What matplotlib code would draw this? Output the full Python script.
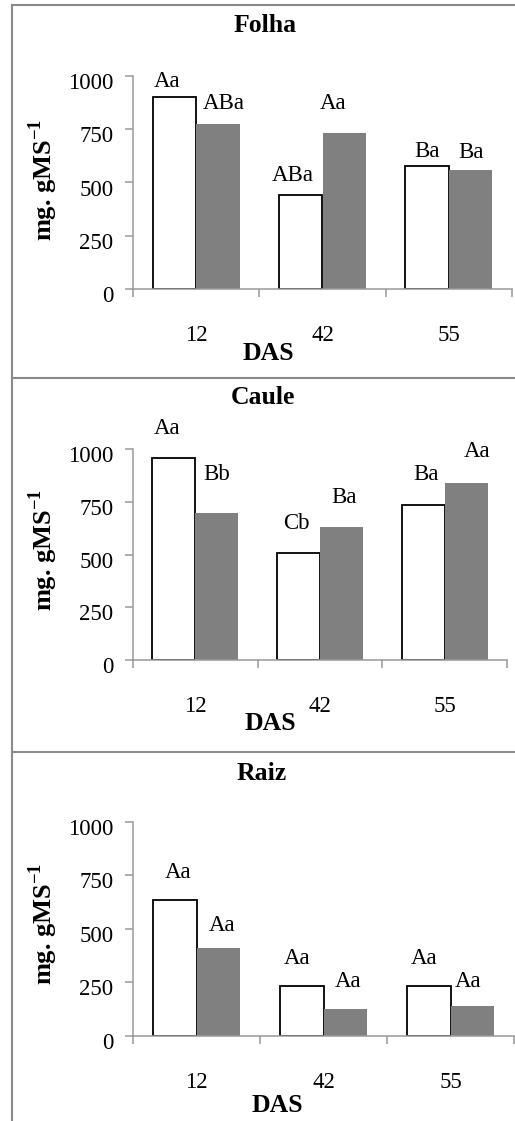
import matplotlib
matplotlib.use("Agg")
import matplotlib.pyplot as plt
import matplotlib.transforms as mtransforms
from matplotlib.lines import Line2D
import numpy as np

plt.rcParams['font.family'] = ['Liberation Serif', 'DejaVu Serif']
plt.rcParams['mathtext.fontset'] = 'custom'
plt.rcParams['mathtext.rm'] = 'Liberation Serif'
plt.rcParams['mathtext.bf'] = 'Liberation Serif:bold'

# ---------------- data ----------------
days = ['12', '42', '55']
panel_titles = ['Folha', 'Caule', 'Raiz']
y_ticks = [0, 250, 500, 750, 1000]

folha_white = [903, 441, 577]
folha_gray = [775, 732, 559]
caule_white = [959, 507, 733]
caule_gray = [695, 630, 837]
raiz_white = [636, 232, 232]
raiz_gray = [408, 125, 139]

# significance letters (white12, gray12, white42, gray42, white55, gray55)
folha_letters = ['Aa', 'ABa', 'ABa', 'Aa', 'Ba', 'Ba']
caule_letters = ['Aa', 'Bb', 'Cb', 'Ba', 'Ba', 'Aa']
raiz_letters = ['Aa', 'Aa', 'Aa', 'Aa', 'Aa', 'Aa']

# letter anchor positions (data coordinates)
folha_letter_x = [-0.232, 0.217, 0.768, 1.083, 1.831, 2.177]
folha_letter_y = [973, 872, 535, 872, 645, 640]
caule_letter_x = [-0.227, 0.174, 0.808, 1.193, 1.852, 2.261]
caule_letter_y = [1098, 880, 645, 769, 880, 987]
raiz_letter_x = [-0.146, 0.200, 0.791, 1.193, 1.791, 2.138]
raiz_letter_y = [763, 517, 362, 252, 362, 252]

whites = [folha_white, caule_white, raiz_white]
grays = [folha_gray, caule_gray, raiz_gray]
letters = [folha_letters, caule_letters, raiz_letters]
letters_x = [folha_letter_x, caule_letter_x, raiz_letter_x]
letters_y = [folha_letter_y, caule_letter_y, raiz_letter_y]

# ---------------- layout (pixels) ----------------
W, H = 515, 1121
fig = plt.figure(figsize=(W / 100, H / 100), dpi=100)

def fx(px):
    return px / W

def fy(py):
    return 1 - py / H

axes_px = [(133, 76, 512, 289), (133, 449, 507, 660), (133, 821.7, 514, 1035.7)]
title_px = [(265, 25), (263, 398), (262, 773)]
das_px = [(268, 354), (270, 723), (277, 1106)]
ylab_px = [(43, 180), (43, 550), (43, 924)]

axis_grey = '#999999'
bar_grey = '#808080'
fs = 16.5
bw = 0.345

for i in range(3):
    l, t, r, b = axes_px[i]
    ax = fig.add_axes([fx(l), fy(b), fx(r) - fx(l), (b - t) / H])
    x = np.arange(len(days))
    ax.bar(x - bw / 2, whites[i], bw, color='white', edgecolor='black', linewidth=1.3, zorder=2)
    ax.bar(x + bw / 2, grays[i], bw, color=bar_grey, edgecolor='none', zorder=2)
    ax.set_xlim(-0.5, 2.5)
    ax.set_ylim(0, 1000)
    ax.set_yticks(y_ticks)
    ax.set_yticklabels([str(v) for v in y_ticks])
    ax.set_xticks([-0.5, 0.5, 1.5, 2.5])
    ax.set_xticklabels([])
    ax.set_xticks(x, minor=True)
    ax.set_xticklabels(days, minor=True)
    ax.tick_params(axis='x', which='minor', length=0, pad=26, labelsize=fs)
    ax.tick_params(axis='x', which='major', length=6, width=1.1, color=axis_grey, direction='out')
    ax.tick_params(axis='y', length=6, width=1.1, color=axis_grey, pad=8, labelsize=fs, direction='out')
    for s in ['top', 'right']:
        ax.spines[s].set_visible(False)
    for s in ['left', 'bottom']:
        ax.spines[s].set_color(axis_grey)
        ax.spines[s].set_linewidth(1.1)
        ax.spines[s].set_zorder(3)
    off = mtransforms.ScaledTranslation(0, -5 / 100, fig.dpi_scale_trans)
    for lab in ax.get_yticklabels():
        lab.set_transform(lab.get_transform() + off)
    for txt, lx, ly in zip(letters[i], letters_x[i], letters_y[i]):
        ax.text(lx, ly, txt, ha='center', va='center', fontsize=fs, clip_on=False)

    fig.text(fx(title_px[i][0]), fy(title_px[i][1]), panel_titles[i], ha='center', va='center',
             fontsize=18.5, fontweight='bold')
    fig.text(fx(das_px[i][0]), fy(das_px[i][1]), 'DAS', ha='center', va='center',
             fontsize=18.5, fontweight='bold')
    fig.text(fx(ylab_px[i][0]), fy(ylab_px[i][1]), r'mg. gMS$^{\mathbf{-1}}$', ha='center', va='center',
             rotation=90, fontsize=19, fontweight='bold')

# table-like borders
border = '#8a8a8a'
fig.add_artist(Line2D([fx(11.5), fx(11.5)], [fy(5.3), fy(1121)], color=border, linewidth=1.5))
for yy in [5.3, 377.7, 751.7]:
    fig.add_artist(Line2D([fx(11.5), fx(515)], [fy(yy), fy(yy)], color=border, linewidth=1.5))

fig.savefig('out.png', dpi=100)
